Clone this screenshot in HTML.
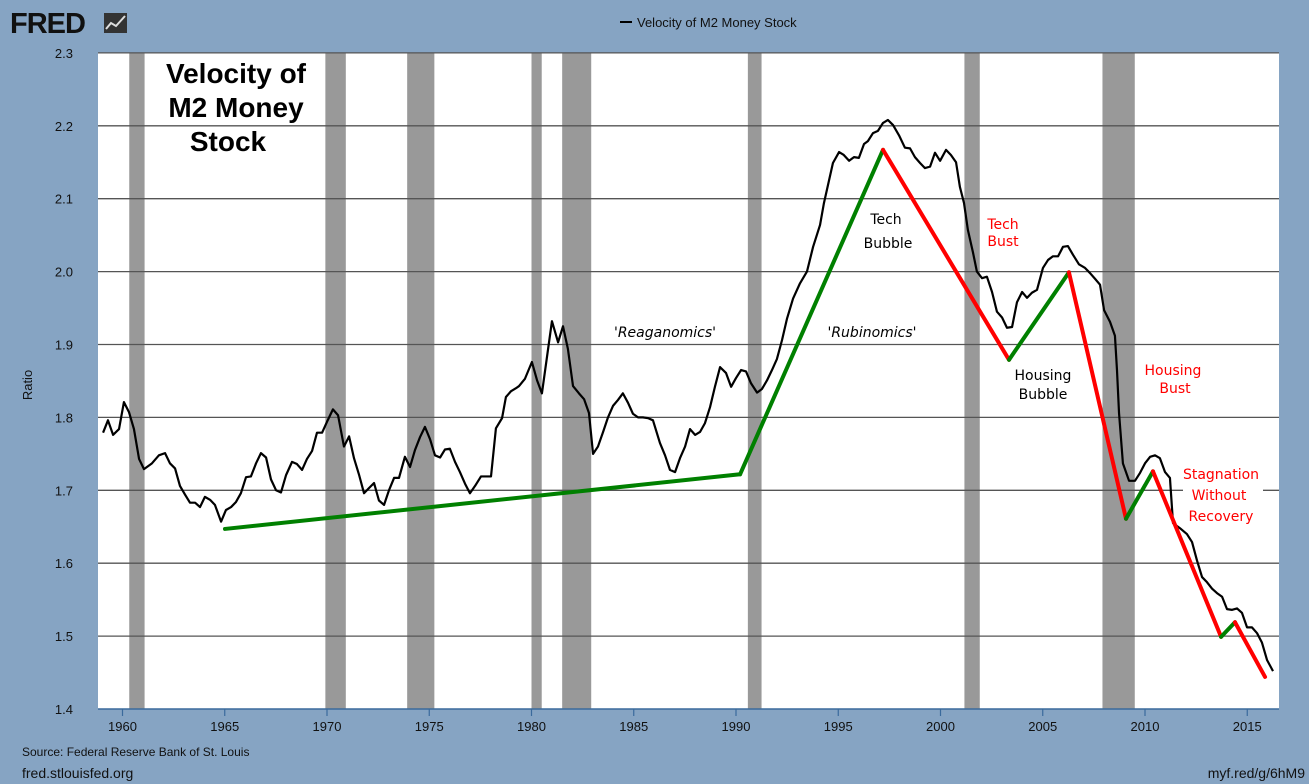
<!DOCTYPE html>
<html><head><meta charset="utf-8"><style>
body{margin:0;background:#86a4c3;}
svg{display:block;font-family:"Liberation Sans",sans-serif;}
.ann{font-family:"DejaVu Sans","Liberation Sans",sans-serif;font-size:14px;}
</style></head><body>
<svg id="c" width="1309" height="784">
<rect width="1309" height="784" fill="#86a4c3"/>
<g>
<text x="10" y="33" font-size="29" font-weight="bold" fill="#111" letter-spacing="-1">FRED</text>
<rect x="104" y="13" width="23" height="20" fill="#333"/>
<polyline points="106,29 111,23 116,26 125,16" fill="none" stroke="#ddd" stroke-width="2"/>
</g>
<g>
<line x1="620" y1="22" x2="632" y2="22" stroke="#000" stroke-width="2"/>
<text x="637" y="27" font-size="13" fill="#111">Velocity of M2 Money Stock</text>
</g>
<rect x="98" y="53" width="1181" height="656" fill="#fff"/>
<g id="rec"></g><g id="grid"></g><g id="ser"></g><g id="ovl"></g><g id="axes"></g>
<text transform="translate(32,385) rotate(-90)" text-anchor="middle" font-size="13" fill="#111">Ratio</text>
<g font-size="28" font-weight="bold" text-anchor="middle" fill="#000">
<text x="236" y="83">Velocity of</text><text x="236" y="117">M2 Money</text><text x="228" y="151">Stock</text></g>
<g class="ann" text-anchor="middle">
<text x="665" y="337" font-style="italic">'Reaganomics'</text>
<text x="872" y="337" font-style="italic">'Rubinomics'</text>
<text x="886" y="224">Tech</text><text x="888" y="248">Bubble</text>
<text x="1003" y="229" fill="#f00">Tech</text><text x="1003" y="246" fill="#f00">Bust</text>
<text x="1043" y="380">Housing</text><text x="1043" y="399">Bubble</text>
<rect x="1183" y="463" width="80" height="62" fill="#fff"/>
<text x="1173" y="375" fill="#f00">Housing</text><text x="1175" y="393" fill="#f00">Bust</text>
<text x="1221" y="479" fill="#f00">Stagnation</text><text x="1219" y="500" fill="#f00">Without</text><text x="1221" y="521" fill="#f00">Recovery</text>
</g>
<text x="22" y="756" font-size="12" fill="#111">Source: Federal Reserve Bank of St. Louis</text>
<text x="22" y="778" font-size="14" fill="#111">fred.stlouisfed.org</text>
<text x="1305" y="778" font-size="14" fill="#111" text-anchor="end">myf.red/g/6hM9</text>
</svg>
<script>
const years=[1959.05,1959.29,1959.54,1959.83,1960.07,1960.32,1960.56,1960.81,1961.05,1961.44,1961.78,1962.08,1962.32,1962.57,1962.81,1963.06,1963.30,1963.55,1963.79,1964.03,1964.28,1964.52,1964.82,1965.06,1965.31,1965.55,1965.79,1966.04,1966.28,1966.53,1966.77,1967.02,1967.26,1967.51,1967.75,1968.00,1968.29,1968.53,1968.78,1969.02,1969.27,1969.51,1969.76,1970.00,1970.29,1970.54,1970.83,1971.08,1971.32,1971.56,1971.81,1972.05,1972.30,1972.54,1972.79,1973.03,1973.28,1973.52,1973.81,1974.06,1974.30,1974.55,1974.79,1975.04,1975.28,1975.53,1975.77,1976.01,1976.26,1976.50,1976.75,1976.99,1977.24,1977.53,1977.78,1978.02,1978.26,1978.56,1978.75,1979.00,1979.24,1979.39,1979.68,1980.02,1980.27,1980.51,1981.00,1981.30,1981.54,1981.78,1982.03,1982.32,1982.57,1982.81,1983.01,1983.25,1983.50,1983.74,1983.99,1984.23,1984.47,1984.72,1984.96,1985.21,1985.45,1985.70,1985.94,1986.28,1986.53,1986.77,1987.02,1987.26,1987.51,1987.75,1988.00,1988.24,1988.48,1988.73,1988.97,1989.22,1989.51,1989.76,1990.00,1990.25,1990.49,1990.73,1991.03,1991.27,1991.52,1991.76,1992.00,1992.25,1992.49,1992.79,1993.13,1993.47,1993.77,1994.11,1994.30,1994.50,1994.74,1995.04,1995.27,1995.53,1995.77,1996.01,1996.26,1996.45,1996.70,1996.94,1997.19,1997.43,1997.68,1997.97,1998.26,1998.51,1998.75,1999.00,1999.24,1999.49,1999.73,1999.98,2000.27,2000.51,2000.76,2000.95,2001.15,2001.34,2001.59,2001.78,2002.03,2002.27,2002.52,2002.76,2003.01,2003.25,2003.50,2003.74,2003.99,2004.23,2004.47,2004.72,2005.01,2005.26,2005.50,2005.75,2005.99,2006.23,2006.48,2006.77,2007.07,2007.31,2007.56,2007.80,2008.00,2008.29,2008.53,2008.63,2008.73,2008.92,2009.22,2009.51,2009.76,2010.00,2010.25,2010.49,2010.73,2010.98,2011.22,2011.37,2011.71,2012.05,2012.30,2012.54,2012.79,2013.03,2013.28,2013.52,2013.77,2014.01,2014.26,2014.50,2014.74,2014.99,2015.23,2015.48,2015.72,2015.97,2016.26];
const velocity=[1.779,1.796,1.776,1.784,1.821,1.807,1.784,1.743,1.729,1.737,1.748,1.751,1.737,1.730,1.706,1.694,1.683,1.683,1.677,1.691,1.687,1.680,1.657,1.673,1.677,1.684,1.696,1.718,1.719,1.737,1.751,1.745,1.715,1.700,1.697,1.721,1.739,1.736,1.728,1.743,1.754,1.779,1.779,1.794,1.811,1.803,1.760,1.774,1.744,1.722,1.696,1.703,1.710,1.686,1.680,1.700,1.717,1.717,1.746,1.732,1.755,1.773,1.787,1.770,1.748,1.745,1.756,1.757,1.739,1.725,1.709,1.696,1.706,1.719,1.719,1.719,1.785,1.799,1.828,1.836,1.840,1.843,1.853,1.876,1.851,1.833,1.932,1.903,1.925,1.894,1.843,1.833,1.825,1.806,1.750,1.760,1.780,1.800,1.816,1.824,1.833,1.820,1.805,1.800,1.800,1.799,1.796,1.765,1.748,1.728,1.725,1.744,1.760,1.784,1.776,1.780,1.792,1.814,1.842,1.869,1.861,1.842,1.854,1.865,1.863,1.847,1.834,1.839,1.851,1.865,1.880,1.906,1.935,1.963,1.984,2.000,2.034,2.064,2.094,2.119,2.149,2.164,2.160,2.152,2.157,2.156,2.175,2.179,2.190,2.193,2.204,2.208,2.201,2.187,2.170,2.169,2.157,2.149,2.142,2.144,2.163,2.152,2.167,2.160,2.150,2.116,2.094,2.057,2.026,2.000,1.991,1.993,1.972,1.945,1.937,1.923,1.924,1.958,1.972,1.964,1.971,1.975,2.005,2.016,2.021,2.021,2.034,2.035,2.023,2.010,2.005,1.998,1.990,1.982,1.947,1.931,1.912,1.865,1.806,1.737,1.713,1.713,1.724,1.737,1.746,1.748,1.744,1.725,1.717,1.655,1.648,1.640,1.629,1.604,1.581,1.574,1.565,1.559,1.554,1.537,1.536,1.538,1.532,1.512,1.512,1.504,1.491,1.467,1.452];
const trendYears=[1965.01,1990.20,1997.19,2003.35,2006.28,2009.07,2010.39,2013.72,2014.40,2015.87];
const trendValues=[1.647,1.722,2.167,1.879,1.999,1.661,1.726,1.499,1.519,1.444];
const recStart=[1960.33,1969.92,1973.92,1980.0,1981.5,1990.58,2001.17,2007.92];
const recEnd=[1961.08,1970.92,1975.25,1980.5,1982.92,1991.25,2001.92,2009.5];
const yTicks=[1.4,1.5,1.6,1.7,1.8,1.9,2.0,2.1,2.2,2.3];
const xTicks=[1960,1965,1970,1975,1980,1985,1990,1995,2000,2005,2010,2015];
const X=y=>122.5+(y-1960)*20.45, Y=v=>709-(v-1.4)*729;
const NS='http://www.w3.org/2000/svg';
function mk(p,t,a){const e=document.createElementNS(NS,t);for(const k in a)e.setAttribute(k,a[k]);document.getElementById(p).appendChild(e);return e;}
recStart.forEach((s,i)=>{const e=mk('rec','rect',{x:X(s),y:53,width:X(recEnd[i])-X(s),height:656,fill:'#999'});

});
yTicks.forEach(v=>{if(v>1.4){const l=mk('grid','line',{x1:98,x2:1279,y1:Y(v),y2:Y(v),stroke:'#555','stroke-width':1.3});

}
const t=mk('axes','text',{x:73,y:Y(v)+5,'text-anchor':'end','font-size':13,fill:'#111'});t.textContent=v.toFixed(1);

});
const ax=mk('axes','line',{x1:98,x2:1279,y1:709,y2:709,stroke:'#3a6a9c','stroke-width':1.5});


xTicks.forEach(y=>{const tk=mk('axes','line',{x1:X(y),x2:X(y),y1:709,y2:716,stroke:'#3a6a9c','stroke-width':1.2});


const t=mk('axes','text',{x:X(y),y:731,'text-anchor':'middle','font-size':13,fill:'#111'});t.textContent=y;

});
const ln=mk('ser','polyline',{points:years.map((y,i)=>X(y)+','+Y(velocity[i])).join(' '),fill:'none',stroke:'#000','stroke-width':2.2,'stroke-linejoin':'round'});


for(let i=0;i<trendYears.length-1;i++){const up=trendValues[i+1]>trendValues[i];
const s=mk('ovl','line',{x1:X(trendYears[i]),y1:Y(trendValues[i]),x2:X(trendYears[i+1]),y2:Y(trendValues[i+1]),stroke:up?'#008000':'#ff0000','stroke-width':4,'stroke-linecap':'round'});

}
</script>
</body></html>
